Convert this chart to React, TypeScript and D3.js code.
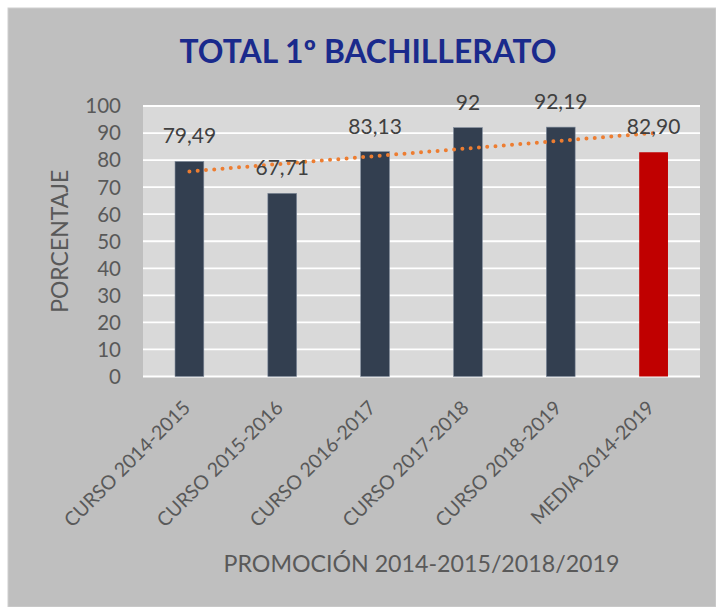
import React from "react";
import * as d3 from "d3";

const title = "TOTAL 1º BACHILLERATO";
const categories = [
  "CURSO 2014-2015",
  "CURSO 2015-2016",
  "CURSO 2016-2017",
  "CURSO 2017-2018",
  "CURSO 2018-2019",
  "MEDIA 2014-2019",
];
const values = [79.49, 67.71, 83.13, 92, 92.19, 82.9];
const valueLabels = ["79,49", "67,71", "83,13", "92", "92,19", "82,90"];
const yTicks = [0, 10, 20, 30, 40, 50, 60, 70, 80, 90, 100];
const yTitle = "PORCENTAJE";
const xTitle = "PROMOCIÓN 2014-2015/2018/2019";

const W = 716;
const H = 607;
const plot = { left: 143, right: 700, top: 106, bottom: 376.5 };
const FONT = "Lato, 'Open Sans', sans-serif";

export default function App() {
  const x = d3
    .scaleBand<string>()
    .domain(categories)
    .range([plot.left, plot.right])
    .paddingInner(0.69)
    .paddingOuter(0.345);
  const y = d3.scaleLinear().domain([0, 100]).range([plot.bottom, plot.top]);

  // linear trendline (least squares) over the series
  const xs = values.map((_, i) => i + 1);
  const mx = d3.mean(xs) as number;
  const my = d3.mean(values) as number;
  const slope =
    d3.sum(xs.map((xi, i) => (xi - mx) * (values[i] - my))) /
    d3.sum(xs.map((xi) => (xi - mx) ** 2));
  const icpt = my - slope * mx;
  const trendPts: [number, number][] = categories.map((c, i) => [
    (x(c) as number) + x.bandwidth() / 2,
    y(icpt + slope * (i + 1)),
  ]);
  const trendPath = d3.line()(trendPts) as string;

  return (
    <svg
      width={W}
      height={H}
      style={{ position: "absolute", left: 0, top: 0 }}
      fontFamily={FONT}
    >
      <rect x={0} y={0} width={W} height={H} fill="#ffffff" />
      <rect x={8} y={8} width={W - 8} height={H - 8} fill="#BFBFBF" stroke="#D0D0D0" strokeWidth={1} />
      <text
        x={368}
        y={63}
        textAnchor="middle"
        fontSize={32}
        fontWeight={700}
        fill="#1A2A8C"
        textLength={377}
        lengthAdjust="spacingAndGlyphs"
      >
        {title}
      </text>

      <rect
        x={plot.left}
        y={plot.top}
        width={plot.right - plot.left}
        height={plot.bottom - plot.top}
        fill="#D9D9D9"
      />
      {yTicks.map((t) => (
        <g key={t}>
          <line
            x1={plot.left}
            x2={plot.right}
            y1={y(t)}
            y2={y(t)}
            stroke="#FFFFFF"
            strokeWidth={1.8}
          />
          <text
            x={121}
            y={y(t)}
            dy="0.36em"
            textAnchor="end"
            fontSize={20.5}
            fill="#595959"
          >
            {t}
          </text>
        </g>
      ))}

      {categories.map((c, i) => (
        <rect
          key={c}
          x={x(c)}
          y={y(values[i])}
          width={x.bandwidth()}
          height={y(0) - y(values[i])}
          fill={c.startsWith("MEDIA") ? "#C00000" : "#333F50"}
          stroke={c.startsWith("MEDIA") ? "none" : "#7F8A9A"}
          strokeWidth={0.6}
        />
      ))}

      <path
        d={trendPath}
        fill="none"
        stroke="#ED7D31"
        strokeWidth={4}
        strokeLinecap="round"
        strokeDasharray="0 8.3"
      />

      {categories.map((c, i) => (
        <text
          key={c}
          x={(x(c) as number) + x.bandwidth() / 2}
          y={y(values[i]) - 18}
          textAnchor="middle"
          fontSize={21}
          fill="#404040"
        >
          {valueLabels[i]}
        </text>
      ))}

      {categories.map((c) => {
        const cx = (x(c) as number) + x.bandwidth() / 2;
        return (
          <text
            key={c}
            transform={`translate(${cx + 2},${409}) rotate(-45)`}
            textAnchor="end"
            fontSize={19.5}
            fill="#595959"
          >
            {c}
          </text>
        );
      })}

      <text
        transform={`translate(68,${(plot.top + plot.bottom) / 2}) rotate(-90)`}
        textAnchor="middle"
        fontSize={23}
        fill="#595959"
      >
        {yTitle}
      </text>
      <text
        x={(plot.left + plot.right) / 2}
        y={572}
        textAnchor="middle"
        fontSize={23.2}
        fill="#595959"
      >
        {xTitle}
      </text>
    </svg>
  );
}
